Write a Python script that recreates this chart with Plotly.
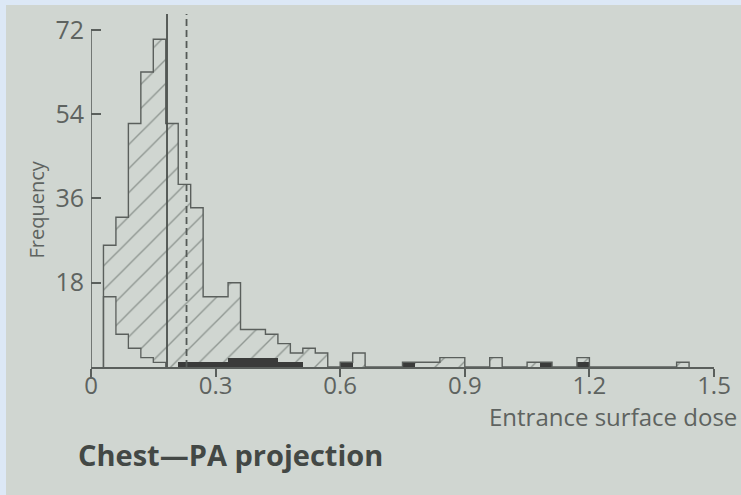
import plotly.graph_objects as go

# ---------------- data ----------------
bin_width = 0.03
bin_left = [0.03, 0.06, 0.09, 0.12, 0.15, 0.18, 0.21, 0.24, 0.27, 0.30,
            0.33, 0.36, 0.39, 0.42, 0.45, 0.48, 0.51, 0.54, 0.57, 0.60,
            0.63, 0.66, 0.69, 0.72, 0.75, 0.78, 0.81, 0.84, 0.87, 0.90,
            0.93, 0.96, 0.99, 1.02, 1.05, 1.08, 1.11, 1.14, 1.17, 1.20,
            1.23, 1.26, 1.29, 1.32, 1.35, 1.38, 1.41]
# total frequency (outer outline, hatched)
freq_total = [26, 32, 52, 63, 70, 52, 39, 34, 15, 15,
              18, 8, 8, 7, 5, 3, 4, 3, 0, 1,
              3, 0, 0, 0, 1, 1, 1, 2, 2, 0,
              0, 2, 0, 0, 1, 1, 0, 0, 2, 0,
              0, 0, 0, 0, 0, 0, 1]
# lower un-hatched component
freq_open = [15, 7, 4, 2, 1, 0, 0, 0, 0, 0,
             0, 0, 0, 0, 0, 0, 0, 0, 0, 0,
             0, 0, 0, 0, 0, 0, 0, 0, 0, 0,
             0, 0, 0, 0, 0, 0, 0, 0, 0, 0,
             0, 0, 0, 0, 0, 0, 0]
# solid black component
freq_black = [0, 0, 0, 0, 0, 0, 1, 1, 1, 1,
              2, 2, 2, 2, 1, 1, 0, 0, 0, 1,
              0, 0, 0, 0, 1, 0, 0, 0, 0, 0,
              0, 0, 0, 0, 0, 1, 0, 0, 1, 0,
              0, 0, 0, 0, 0, 0, 0]
line_solid_dose = 0.183
line_dashed_dose = 0.230
x_ticks = [0, 0.3, 0.6, 0.9, 1.2, 1.5]
x_ticktext = ["0", "0.3", "0.6", "0.9", "1.2", "1.5"]
y_ticks = [18, 36, 54, 72]
y_ticktext = ["18", "36", "54", "72"]

# ---------------- style ----------------
W, H = 741, 495
PAPER = "#d0d6d1"
BORDER = "#dce8f6"
INK = "#5a5f5c"
HATCH = "#8f9691"
TXT = "#5e6360"
FONT = "Open Sans"

centers = [l + bin_width / 2 for l in bin_left]


def step_outline(lefts, vals, w):
    xs, ys = [lefts[0]], [0]
    for l, v in zip(lefts, vals):
        xs.append(l)
        ys.append(v)
    xs.append(lefts[-1] + w)
    ys.append(0)
    return xs, ys


fig = go.Figure()

# hatched total
fig.add_trace(go.Bar(
    x=centers, y=freq_total, width=bin_width,
    marker=dict(color=PAPER, line=dict(width=0),
                pattern=dict(shape="/", fgcolor=HATCH, bgcolor=PAPER,
                             size=17, solidity=0.08)),
    hoverinfo="skip", showlegend=False))
# open (unhatched) lower component
fig.add_trace(go.Bar(
    x=centers, y=freq_open, width=bin_width,
    marker=dict(color=PAPER, line=dict(width=0)),
    hoverinfo="skip", showlegend=False))
# black component
fig.add_trace(go.Bar(
    x=centers, y=freq_black, width=bin_width,
    marker=dict(color="#3a3b3a", line=dict(width=0)),
    hoverinfo="skip", showlegend=False))

ox, oy = step_outline(bin_left, freq_total, bin_width)
fig.add_trace(go.Scatter(x=ox, y=oy, mode="lines", line_shape="hv",
                         line=dict(color=INK, width=1.4),
                         hoverinfo="skip", showlegend=False))
n_open = sum(1 for v in freq_open if v > 0)
px_, py_ = step_outline(bin_left[:n_open], freq_open[:n_open], bin_width)
fig.add_trace(go.Scatter(x=px_, y=py_, mode="lines", line_shape="hv",
                         line=dict(color=INK, width=1.3),
                         hoverinfo="skip", showlegend=False))

shapes = [
    # photographed page with a light strip along the top/left edges
    dict(type="rect", xref="paper", yref="paper", x0=6 / W, x1=1,
         y0=0, y1=1 - 5 / H, fillcolor=PAPER, line=dict(width=0),
         layer="below"),
    # y axis line
    dict(type="line", xref="x", yref="y", x0=0, x1=0, y0=0,
         y1=y_ticks[-1], line=dict(color=INK, width=1.6)),
    # reference lines
    dict(type="line", xref="x", yref="y domain", x0=line_solid_dose,
         x1=line_solid_dose, y0=0, y1=1, line=dict(color="#4a4f4c", width=1.8)),
    dict(type="line", xref="x", yref="y domain", x0=line_dashed_dose,
         x1=line_dashed_dose, y0=0, y1=1,
         line=dict(color="#555a57", width=1.8, dash="7px,4px")),
]

annotations = [
    dict(text="Frequency", xref="paper", yref="paper", x=20 / W,
         y=1 - 210 / H, textangle=-90, showarrow=False,
         font=dict(family=FONT, size=20, color=TXT)),
    dict(text="Entrance surface dose", xref="paper", yref="paper",
         x=739 / W, y=1 - 435 / H, xanchor="right", showarrow=False,
         font=dict(family=FONT, size=24, color=TXT)),
    dict(text="<b>Chest—PA projection</b>", xref="paper", yref="paper",
         x=76 / W, y=1 - 476 / H, xanchor="left", showarrow=False,
         font=dict(family=FONT, size=29, color="#434845")),
]

fig.update_layout(
    template="none",
    width=W, height=H,
    margin=dict(l=0, r=0, t=0, b=0, pad=0, autoexpand=False),
    paper_bgcolor=BORDER,
    plot_bgcolor="rgba(0,0,0,0)",
    barmode="overlay",
    bargap=0,
    showlegend=False,
    shapes=shapes,
    annotations=annotations,
    xaxis=dict(domain=[91 / W, 714 / W], range=[0, 1.5], automargin=False,
               tickvals=x_ticks, ticktext=x_ticktext,
               showgrid=False, zeroline=False, showline=True,
               linecolor=INK, linewidth=1.6,
               ticks="outside", ticklen=8, tickwidth=1.5, tickcolor=INK,
               ticklabelstandoff=-12,
               tickfont=dict(family=FONT, size=24, color=TXT)),
    yaxis=dict(domain=[1 - 367 / H, 1 - 14 / H], range=[0, 75.4],
               automargin=False,
               tickvals=y_ticks, ticktext=y_ticktext,
               showgrid=False, zeroline=False, showline=False,
               ticks="inside", ticklen=10, tickwidth=1.5, tickcolor=INK,
               ticklabelstandoff=6,
               tickfont=dict(family=FONT, size=25, color=TXT)),
)

fig.write_html("out.html")
